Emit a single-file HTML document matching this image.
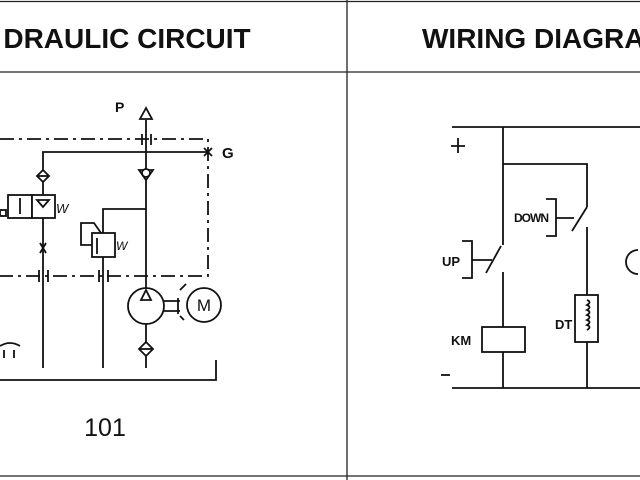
<!DOCTYPE html>
<html><head><meta charset="utf-8"><style>
html,body{margin:0;padding:0;background:#fff;}
svg{display:block;}
text{font-family:"Liberation Sans",sans-serif;fill:#111;}
</style></head><body>
<svg width="640" height="480" viewBox="0 0 640 480" xmlns="http://www.w3.org/2000/svg">
<rect width="640" height="480" fill="#fff"/>
<g stroke="#222" stroke-width="1.3" fill="none">
<line x1="0" y1="1.5" x2="640" y2="1.5"/>
<line x1="0" y1="72" x2="640" y2="72"/>
<line x1="347" y1="0" x2="347" y2="480"/>
<line x1="0" y1="476" x2="640" y2="476"/>
</g>
<text x="127" y="48" font-size="28" font-weight="bold" text-anchor="middle">DRAULIC CIRCUIT</text>
<text x="422" y="48" font-size="28" font-weight="bold">WIRING DIAGRA</text>

<g stroke="#111" stroke-width="1.8" fill="none">
<path d="M0 139 H208 V276 H0" stroke-dasharray="14 5 3 5"/>
<line x1="146" y1="120" x2="146" y2="368"/>
<polygon points="146,108 140,119 152,119" fill="#fff"/>
<line x1="142" y1="134" x2="142" y2="145"/><line x1="151" y1="134" x2="151" y2="145"/>
<path d="M43 368 V152 H208"/>
<path d="M204 148 L212 156 M212 148 L204 156"/>
<polygon points="139,170 153,170 146,180" fill="#fff"/>
<circle cx="146" cy="173" r="4" fill="#fff"/>
<polygon points="43,170 49,176 43,182 37,176" fill="#fff"/>
<line x1="37" y1="176" x2="49" y2="176"/>
<rect x="8" y="195" width="24" height="23" fill="#fff"/>
<rect x="32" y="195" width="23" height="23" fill="#fff"/>
<line x1="20" y1="198" x2="20" y2="214"/>
<polygon points="37,200 49,200 43,207"/>
<rect x="0" y="210" width="6" height="6"/>
<path d="M40 243 L46 253 M46 243 L40 253"/>
<line x1="39" y1="270" x2="39" y2="282"/><line x1="48" y1="270" x2="48" y2="282"/>
<line x1="99" y1="270" x2="99" y2="282"/><line x1="108" y1="270" x2="108" y2="282"/>
<path d="M146 209 H103 V233"/>
<line x1="103" y1="257" x2="103" y2="368"/>
<rect x="92" y="233" width="23" height="24" fill="#fff"/>
<path d="M92 245 H81 V223 H94 L101 233"/>
<line x1="97" y1="238" x2="97" y2="254"/>
<circle cx="146" cy="306" r="18" fill="#fff"/>
<polygon points="146,290 141,300 151,300"/>
<path d="M164 301 H180 M164 311 H180 M178 298 V314"/>
<circle cx="204" cy="305" r="17" fill="#fff"/>
<path d="M180 290 L186 284 M180 316 L184 320"/>
<polygon points="146,342 153,349 146,356 139,349" fill="#fff"/>
<line x1="139" y1="349" x2="153" y2="349"/>
<path d="M0 380 H216 V360"/>
<path d="M0 346 Q10 340 20 346"/>
<path d="M4 350 V358 M14 350 V358"/>
</g>
<text x="115" y="112" font-size="14" font-weight="bold">P</text>
<text x="222" y="158" font-size="15" font-weight="bold">G</text>
<text x="56" y="213" font-size="13" font-style="italic">W</text>
<text x="116" y="250" font-size="12" font-style="italic">W</text>
<text x="204" y="311" font-size="17" text-anchor="middle">M</text>
<text x="105" y="436" font-size="25" text-anchor="middle">101</text>

<g stroke="#111" stroke-width="1.8" fill="none">
<line x1="452" y1="127" x2="640" y2="127"/>
<line x1="452" y1="388" x2="640" y2="388"/>
<path d="M503 127 V245 M486 273 L501 246 M503 272 V327 M503 352 V388"/>
<path d="M472 260 H492 M462 241 H472 V278 H462"/>
<path d="M503 164 H587 V207 M572 231 L587 207 M587 227 V295 M587 342 V388"/>
<path d="M556 218 H574 M546 199 H556 V236 H546"/>
<rect x="482" y="327" width="43" height="25" fill="#fff"/>
<rect x="575" y="295" width="23" height="47" fill="#fff"/>
<path d="M587 300 q5 2 0 5 q5 2 0 5 q5 2 0 5 q5 2 0 5 q5 2 0 5 q5 2 0 5"/>
<path d="M638 250 A12 12 0 0 0 638 274"/>
<path d="M458 138 V153 M451 146 H465"/>
<line x1="441" y1="375" x2="450" y2="375"/>
</g>
<text x="442" y="266" font-size="13" font-weight="bold">UP</text>
<text x="514" y="222" font-size="12" font-weight="bold" letter-spacing="-1">DOWN</text>
<text x="451" y="345" font-size="13" font-weight="bold">KM</text>
<text x="555" y="329" font-size="13" font-weight="bold">DT</text>
</svg>
</body></html>
